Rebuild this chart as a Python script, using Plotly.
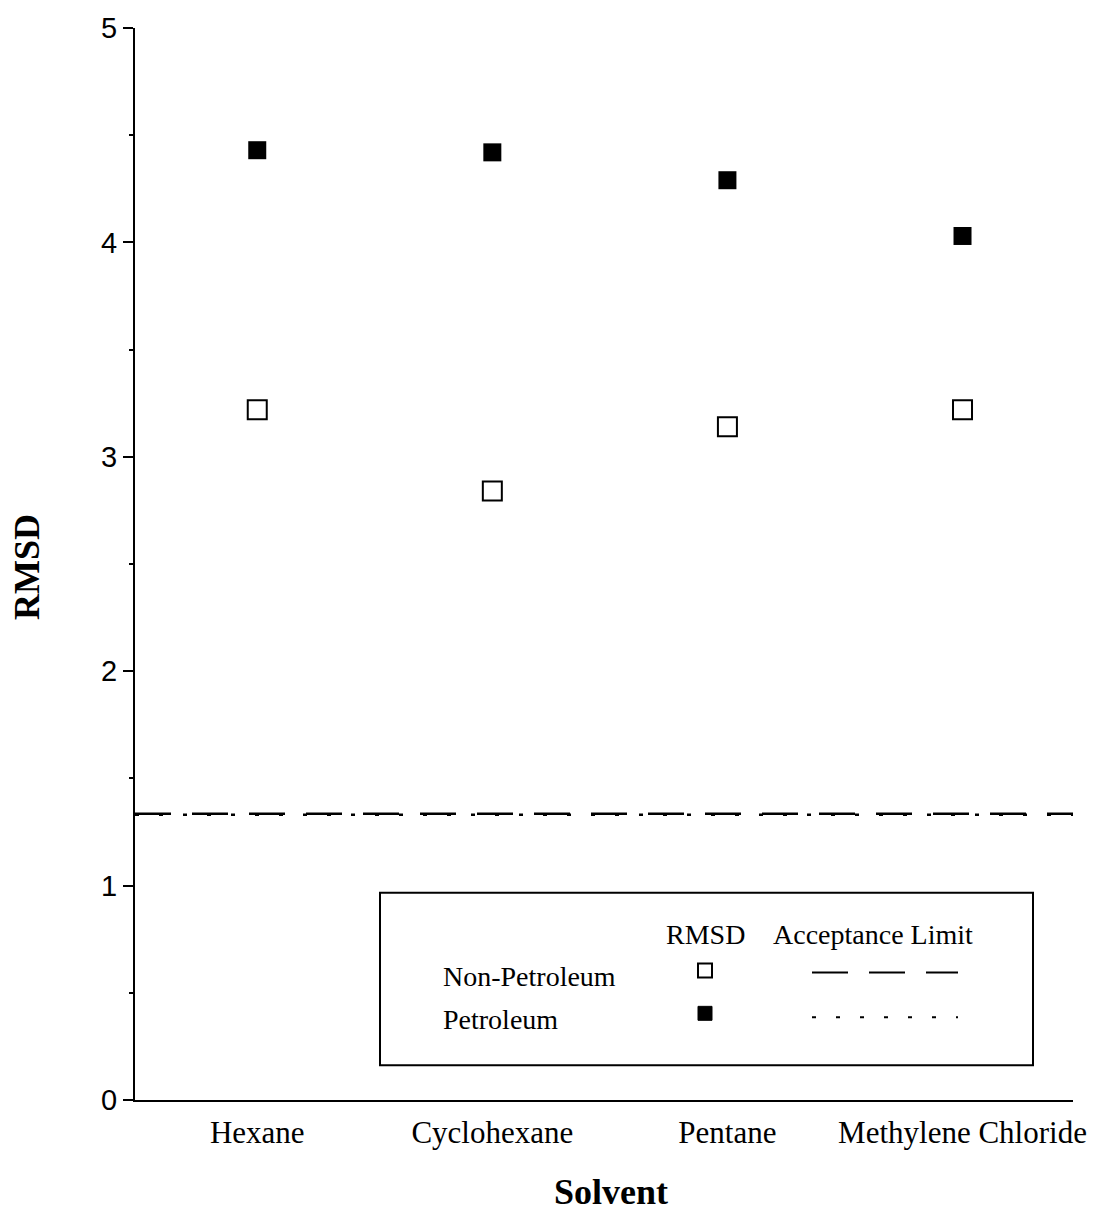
import plotly.graph_objects as go

solvents = ["Hexane", "Cyclohexane", "Pentane", "Methylene Chloride"]
non_petroleum = [3.22, 2.84, 3.14, 3.22]
petroleum = [4.43, 4.42, 4.29, 4.03]
limit_non_petroleum = 1.335
limit_petroleum = 1.33
y_ticks = [0, 1, 2, 3, 4, 5]

# plot-area pixel frame used to place decorations in paper coordinates
L, R, T, B = 135, 1073, 24, 1100
def px(x):
    return (x - L) / (R - L)
def py(y):
    return (B - y) / (B - T)

serif = "Liberation Serif"

fig = go.Figure()
fig.add_trace(go.Scatter(
    x=solvents, y=non_petroleum, mode="markers", name="Non-Petroleum",
    marker=dict(symbol="square-open", size=19, color="black", line=dict(width=2, color="black")),
    showlegend=False))
fig.add_trace(go.Scatter(
    x=solvents, y=petroleum, mode="markers", name="Petroleum",
    marker=dict(symbol="square", size=18, color="black"),
    showlegend=False))

shapes = []
# acceptance limits
shapes.append(dict(type="line", xref="paper", yref="y", x0=0, x1=1,
                   y0=limit_non_petroleum, y1=limit_non_petroleum,
                   line=dict(color="black", width=2.5, dash="36px,21px")))
shapes.append(dict(type="line", xref="paper", yref="y", x0=0, x1=1,
                   y0=limit_petroleum, y1=limit_petroleum,
                   line=dict(color="black", width=2.5, dash="4px,20px")))
# legend box
shapes.append(dict(type="rect", xref="paper", yref="paper",
                   x0=px(380), x1=px(1033), y0=py(1065), y1=py(892),
                   line=dict(color="black", width=2), fillcolor="white", layer="above"))
# legend symbols
s = 7
shapes.append(dict(type="rect", xref="paper", yref="paper",
                   x0=px(705 - s), x1=px(705 + s), y0=py(970 + s), y1=py(970 - s),
                   line=dict(color="black", width=2), fillcolor="white", layer="above"))
shapes.append(dict(type="rect", xref="paper", yref="paper",
                   x0=px(705 - s), x1=px(705 + s), y0=py(1013 + s), y1=py(1013 - s),
                   line=dict(color="black", width=1), fillcolor="black", layer="above"))
shapes.append(dict(type="line", xref="paper", yref="paper",
                   x0=px(812), x1=px(958), y0=py(972), y1=py(972),
                   line=dict(color="black", width=2, dash="36px,21px"), layer="above"))
shapes.append(dict(type="line", xref="paper", yref="paper",
                   x0=px(812), x1=px(958), y0=py(1017), y1=py(1017),
                   line=dict(color="black", width=2, dash="4px,20px"), layer="above"))

lf = dict(family=serif, size=28, color="black")
annotations = [
    dict(text="RMSD", x=px(705), y=py(934), xref="paper", yref="paper",
         showarrow=False, font=lf, xanchor="center", yanchor="middle"),
    dict(text="Acceptance Limit", x=px(873), y=py(934), xref="paper", yref="paper",
         showarrow=False, font=lf, xanchor="center", yanchor="middle"),
    dict(text="Non-Petroleum", x=px(441), y=py(976), xref="paper", yref="paper",
         showarrow=False, font=lf, xanchor="left", yanchor="middle"),
    dict(text="Petroleum", x=px(441), y=py(1019), xref="paper", yref="paper",
         showarrow=False, font=lf, xanchor="left", yanchor="middle"),
    dict(text="<b>Solvent</b>", x=px(611), y=py(1213), xref="paper", yref="paper",
         showarrow=False, font=dict(family=serif, size=36, color="black"),
         xanchor="center", yanchor="bottom", borderpad=0),
    dict(text="<b>RMSD</b>", x=px(27), y=py(565), xref="paper", yref="paper",
         showarrow=False, font=dict(family=serif, size=36, color="black"),
         xanchor="center", yanchor="middle", textangle=-90),
]

fig.update_layout(
    width=1104, height=1214,
    margin=dict(l=L, r=1104 - R, t=T, b=1214 - B),
    paper_bgcolor="white", plot_bgcolor="white",
    shapes=shapes, annotations=annotations,
    showlegend=False,
    xaxis=dict(type="category", categoryorder="array", categoryarray=solvents,
               range=[-0.52, 3.47], showgrid=False, zeroline=False,
               showline=True, linecolor="black", linewidth=2,
               ticks="", tickfont=dict(family=serif, size=31, color="black"),
               ticklabelstandoff=4),
    yaxis=dict(range=[0, 5], tickvals=y_ticks, showgrid=False, zeroline=False,
               showline=True, linecolor="black", linewidth=2,
               ticks="outside", ticklen=10, tickwidth=2, tickcolor="black",
               ticklabelstandoff=0,
               tickfont=dict(family="Liberation Sans", size=29, color="black"),
               minor=dict(dtick=0.5, ticks="outside", ticklen=4, tickwidth=1.5, tickcolor="black")),
)

fig.write_html("out.html")
